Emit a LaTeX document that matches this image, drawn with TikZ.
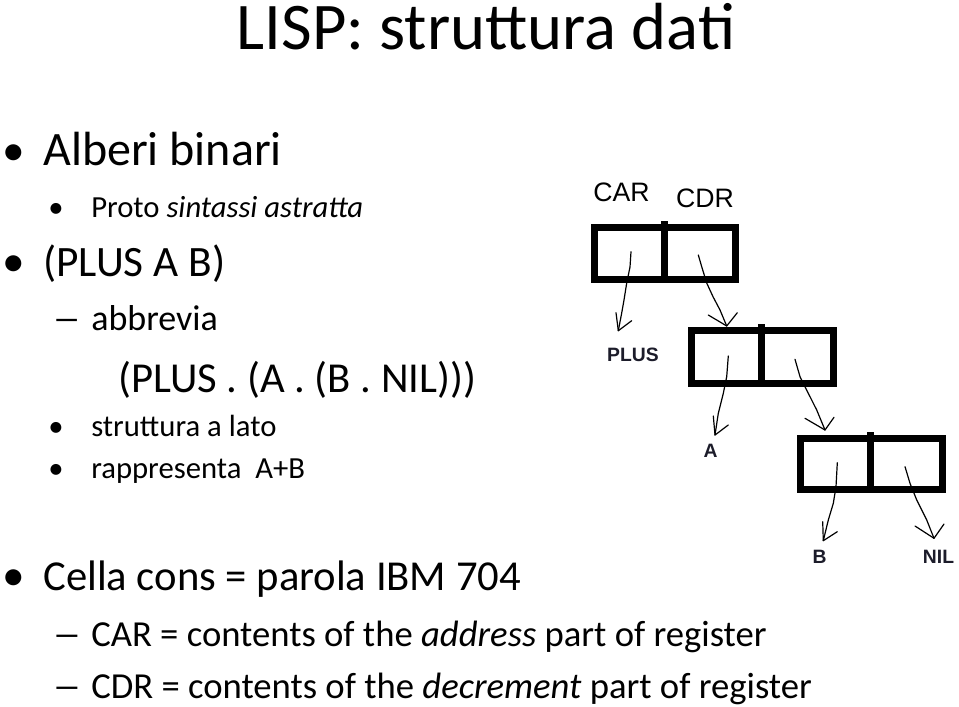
\documentclass[tikz,border=0pt]{standalone}
\usepackage{fontspec}
\setmainfont{Carlito}
\newfontfamily\arialfont{Liberation Sans}
\usepackage{tikz}
\usepackage{tkz-euclide}
\usetikzlibrary{arrows}
\definecolor{ink}{HTML}{1C1C2A}

\begin{document}
\begin{tikzpicture}[x=0.75pt,y=-0.75pt,
    txt/.style={anchor=base west,inner sep=0pt},
    cell/.style={line width=5.25pt,miter limit=10},
    hand/.style={line width=0.9pt,line cap=round,line join=round},
    tag/.style={inner sep=0pt,text=ink,font=\arialfont\bfseries\fontsize{14.5}{17}\selectfont},
    head/.style={inner sep=0pt,font=\arialfont\fontsize{20}{24}\selectfont}]
    \useasboundingbox (0,0) rectangle (959,706);

    \node[anchor=base,inner sep=0pt,font=\fontsize{50}{60}\selectfont] (title) at (486,50) {LISP: struttura dati};

    \node[txt,font=\fontsize{34}{40}\selectfont] (B1) at (2,166) {\textbullet};
    \node[txt,font=\fontsize{36}{42}\selectfont] (T1) at (43,166) {Alberi binari};
    \node[txt,font=\fontsize{23}{28}\selectfont] (B2) at (48,217) {\textbullet};
    \node[txt,font=\fontsize{23}{28}\selectfont] (T2) at (91,217) {Proto \textit{sintassi astratta}};
    \node[txt,font=\fontsize{34}{40}\selectfont] (B3) at (2,276) {\textbullet};
    \node[txt,font=\fontsize{32.5}{38}\selectfont] (T3) at (43,276) {(PLUS A B)};
    \node[txt,font=\fontsize{27}{32}\selectfont] (D4) at (52,330) {\scalebox{1.6}[1]{--}};
    \node[txt,font=\fontsize{27}{32}\selectfont] (T4) at (91,330) {abbrevia};
    \node[txt,font=\fontsize{32}{38}\selectfont] (T5) at (118,392) {(PLUS . (A . (B . NIL)))};
    \node[txt,font=\fontsize{23}{28}\selectfont] (B6) at (48,436) {\textbullet};
    \node[txt,font=\fontsize{23}{28}\selectfont] (T6) at (91,436) {struttura a lato};
    \node[txt,font=\fontsize{23}{28}\selectfont] (B7) at (48,478) {\textbullet};
    \node[txt,font=\fontsize{23}{28}\selectfont] (T7) at (91,478) {rappresenta\ \ A+B};
    \node[txt,font=\fontsize{34}{40}\selectfont] (B8) at (2,590) {\textbullet};
    \node[txt,font=\fontsize{32}{38}\selectfont] (T8) at (43,590) {Cella cons = parola IBM 704};
    \node[txt,font=\fontsize{27.5}{32}\selectfont] (D9) at (52,646) {\scalebox{1.6}[1]{--}};
    \node[txt,font=\fontsize{27.5}{32}\selectfont] (T9) at (91,646) {CAR = contents of the \textit{address} part of register};
    \node[txt,font=\fontsize{27.5}{32}\selectfont] (D10) at (52,698) {\scalebox{1.6}[1]{--}};
    \node[txt,font=\fontsize{27.5}{32}\selectfont] (T10) at (91,698) {CDR = contents of the \textit{decrement} part of register};

    % celle cons
    \tkzDefPoints{594.5/227.5/C1_NW,735.5/279.5/C1_SE,664/221/C1_T,664/279.5/C1_B}
    \tkzDefPoints{691.5/330.5/C2_NW,833.5/383.5/C2_SE,761/324/C2_T,761/383.5/C2_B}
    \tkzDefPoints{800.5/438.5/C3_NW,942.5/489.5/C3_SE,870.5/432/C3_T,870.5/489.5/C3_B}
    \draw[cell] (C1_NW) rectangle (C1_SE);
    \draw[cell] (C1_T) -- (C1_B);
    \draw[cell] (C2_NW) rectangle (C2_SE);
    \draw[cell] (C2_T) -- (C2_B);
    \draw[cell] (C3_NW) rectangle (C3_SE);
    \draw[cell] (C3_T) -- (C3_B);

    \node[head] (car) at (621.5,192) {CAR};
    \node[head] (cdr) at (705,198) {CDR};
    \node[tag] (plus) at (633,355) {PLUS};
    \node[tag] (a) at (710.5,451) {A};
    \node[tag] (b) at (819.5,557) {B};
    \node[tag] (nil) at (938.5,557) {NIL};

    % frecce a mano
    \tkzDefPoints{631/251.7/C1_CAR0,618.3/330.7/C1_CAR1,616/312.7/C1_CARL,631.7/320.7/C1_CARR}
    \tkzDefPoints{698.3/255/C1_CDR0,726.7/326/C1_CDR1,708.3/315/C1_CDRL,737.3/312.7/C1_CDRR}
    \tkzDefPoints{728.3/356/C2_CAR0,715/435/C2_CAR1,713.3/416/C2_CARL,728.3/425/C2_CARR}
    \tkzDefPoints{795/359.3/C2_CDR0,825/430/C2_CDR1,805/418.3/C2_CDRL,834/417.3/C2_CDRR}
    \tkzDefPoints{837.3/462.7/C3_CAR0,823.3/540.7/C3_CAR1,822.7/521.7/C3_CARL,837.3/531.7/C3_CARR}
    \tkzDefPoints{905/466.7/C3_CDR0,934/538.3/C3_CDR1,915/526/C3_CDRL,944/524/C3_CDRR}

    \draw[hand] (C1_CAR0) -- (630,267) -- (626.7,283) -- (624,300) -- (621.7,313) -- (C1_CAR1);
    \draw[hand] (C1_CARL) -- (C1_CAR1) -- (C1_CARR);
    \draw[hand] (C1_CDR0) -- (701.7,266.7) -- (706.7,283) -- (713,296.7) -- (720,310) -- (C1_CDR1);
    \draw[hand] (C1_CDRL) -- (C1_CDR1) -- (C1_CDRR);
    \draw[hand] (C2_CAR0) -- (726.7,376.7) -- (723.3,393.3) -- (718.3,413.3) -- (C2_CAR1);
    \draw[hand] (C2_CARL) -- (C2_CAR1) -- (C2_CARR);
    \draw[hand] (C2_CDR0) -- (800,376.7) -- (808.3,393.3) -- (816.7,410) -- (C2_CDR1);
    \draw[hand] (C2_CDRL) -- (C2_CDR1) -- (C2_CDRR);
    \draw[hand] (C3_CAR0) -- (836,486.7) -- (833.3,503.3) -- (828.3,520) -- (C3_CAR1);
    \draw[hand] (C3_CARL) -- (C3_CAR1) -- (C3_CARR);
    \draw[hand] (C3_CDR0) -- (910,483.3) -- (916.7,500) -- (926.7,520) -- (C3_CDR1);
    \draw[hand] (C3_CDRL) -- (C3_CDR1) -- (C3_CDRR);

\end{tikzpicture}
\end{document}
